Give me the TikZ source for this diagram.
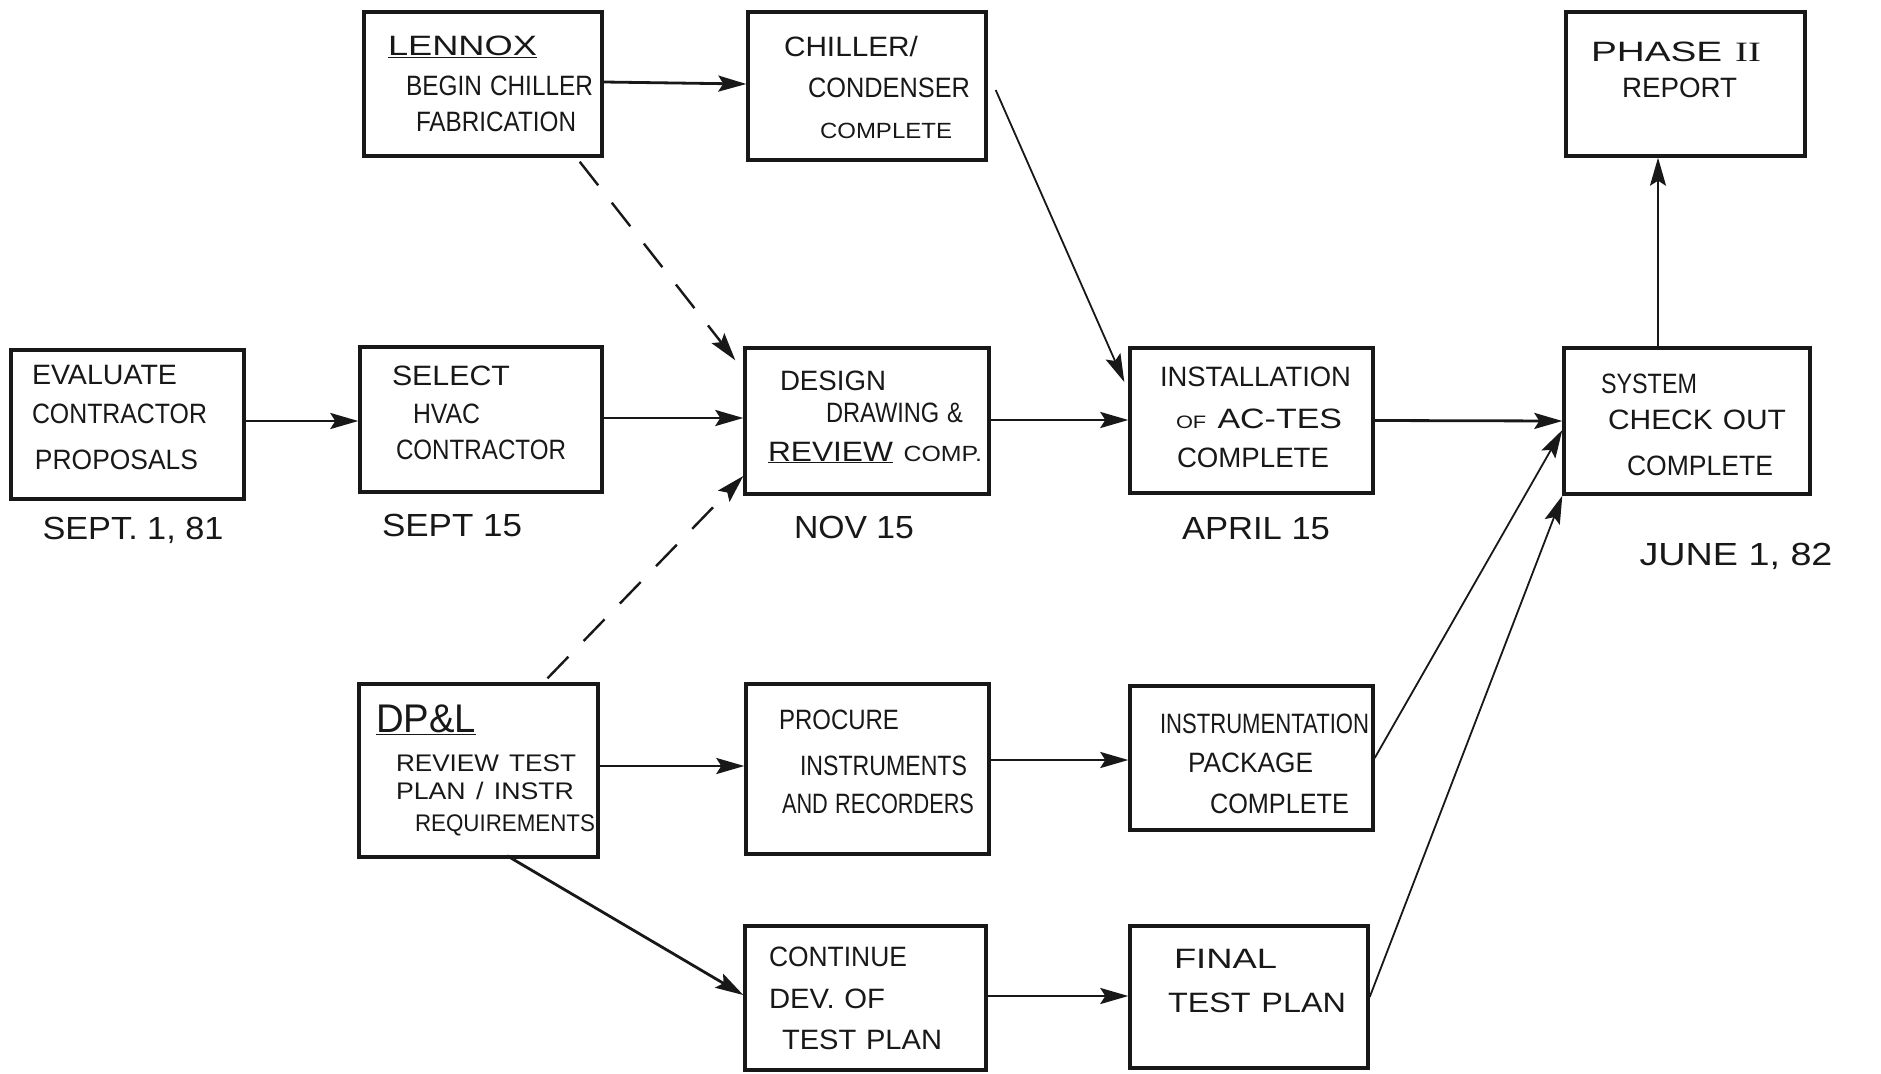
\documentclass[tikz,border=0pt]{standalone}
\usepackage{fontspec}
\setmainfont{Liberation Sans}
\newfontfamily\romfont{Liberation Serif}
\usepackage{graphicx}
\usetikzlibrary{arrows.meta}
\definecolor{ink}{RGB}{24,24,24}
\newcommand\hwl[3]{\hspace*{#1pt}\resizebox{#2pt}{\height}{#3}}
\begin{document}
\begin{tikzpicture}[x=1pt,y=-1pt,
  box/.style={draw=ink, line width=3.4pt, inner sep=0pt, align=left, text=ink,
              font=\fontsize{28}{40}\selectfont},
  bx/.style n args={2}{minimum width=#1pt, minimum height=#2pt, text width=#1pt},
  lbl/.style={inner sep=0pt, text=ink, font=\fontsize{32}{38}\selectfont},
  tip/.style={-{Stealth[length=28pt,width=16pt,inset=5pt]}},
  arr/.style={draw=ink, line width=2.8pt, tip},
  thinarr/.style={draw=ink, line width=1.8pt, tip},
  dasharr/.style={draw=ink, line width=2.4pt, dash pattern=on 30pt off 22pt, tip}]
\useasboundingbox[fill=white] (0,0) rectangle (1881,1073);

% boxes
\node[box, bx={233}{149}] (eval) at (127.5,424.5)
  {\hwl{21}{145}{EVALUATE}\\[-1pt]\hwl{21}{175}{CONTRACTOR}\\[6pt]\hwl{24}{163}{PROPOSALS}\\[-26pt]\mbox{}};
\node[box, bx={242}{145}] (select) at (481,419.5)
  {\hwl{32}{118}{SELECT}\\[-2pt]\hwl{53}{67}{HVAC}\\[-4pt]\hwl{36}{170}{CONTRACTOR}\\[-26pt]\mbox{}};
\node[box, bx={238}{144}] (lennox) at (483,84)
  {\hwl{24}{149}{\underline{LENNOX}}\\\hwl{42}{187}{BEGIN CHILLER}\\[-4pt]\hwl{52}{160}{FABRICATION}};
\node[box, bx={238}{148}] (chiller) at (867,86)
  {\mbox{}\\[-16pt]\hwl{36}{134}{CHILLER/}\\[1pt]\hwl{60}{162}{CONDENSER}\\[1pt]\hwl{72}{132}{{\fontsize{22}{40}\selectfont COMPLETE}}};
\node[box, bx={244}{146}] (design) at (867,421)
  {\hwl{35}{106}{DESIGN}\\[-8pt]\hwl{81}{137}{DRAWING \&}\\[-1pt]\hwl{23}{214}{\underline{REVIEW} {\fontsize{22}{40}\selectfont COMP.}}\\[-30pt]\mbox{}};
\node[box, bx={243}{145}] (install) at (1251.5,420.5)
  {\hwl{30}{191}{INSTALLATION}\\[2pt]\hwl{46}{166}{{\fontsize{18}{40}\selectfont OF} AC-TES}\\[-1pt]\hwl{47}{152}{COMPLETE}\\[-34pt]\mbox{}};
\node[box, bx={246}{146}] (system) at (1687,421)
  {\mbox{}\\[-12pt]\hwl{37}{96}{SYSTEM}\\[-4pt]\hwl{44}{178}{CHECK OUT}\\[6pt]\hwl{63}{146}{COMPLETE}};
\node[box, bx={239}{144}] (phase) at (1685.5,84)
  {\hwl{25}{170}{PHASE {\romfont II}}\\[-4pt]\hwl{56}{115}{REPORT}\\[-12pt]\mbox{}};
\node[box, bx={239}{173}] (dpl) at (478.5,770.5)
  {\hwl{17}{100}{{\fontsize{40}{40}\selectfont\underline{DP\&L}}}\\[-1pt]\hwl{37}{180}{{\fontsize{24}{40}\selectfont REVIEW TEST}}\\[-12pt]\hwl{37}{178}{{\fontsize{24}{40}\selectfont PLAN / INSTR}}\\[-8pt]\hwl{56}{180}{{\fontsize{24}{40}\selectfont REQUIREMENTS}}};
\node[box, bx={243}{170}] (procure) at (867.5,769)
  {\hwl{33}{120}{PROCURE}\\[6pt]\hwl{54}{167}{INSTRUMENTS}\\[-2pt]\hwl{36}{192}{AND RECORDERS}\\[-26pt]\mbox{}};
\node[box, bx={243}{144}] (instr) at (1251.5,758)
  {\mbox{}\\[-8pt]\hwl{30}{209}{INSTRUMENTATION}\\[-1pt]\hwl{58}{125}{PACKAGE}\\[1pt]\hwl{80}{139}{COMPLETE}};
\node[box, bx={241}{144}] (continue) at (865.5,998)
  {\hwl{24}{138}{CONTINUE}\\[2pt]\hwl{24}{116}{DEV. OF}\\[1pt]\hwl{37}{160}{TEST PLAN}};
\node[box, bx={238}{142}] (final) at (1249,997)
  {\hwl{44}{103}{FINAL}\\[4pt]\hwl{38}{178}{TEST PLAN}\\[-8pt]\mbox{}};

% date labels
\node[lbl] (d1) at (133,530) {\resizebox{181pt}{\height}{SEPT. 1, 81}};
\node[lbl] (d2) at (452,525) {\resizebox{140pt}{\height}{SEPT 15}};
\node[lbl] (d3) at (854,527) {\resizebox{120pt}{\height}{NOV 15}};
\node[lbl] (d4) at (1256,529) {\resizebox{148pt}{\height}{APRIL 15}};
\node[lbl] (d5) at (1736,556) {\resizebox{193pt}{\height}{JUNE 1, 82}};

% connectors
\draw[arr] ([yshift=3.5pt]eval.east) -- ([yshift=-1.5pt]select.west);
\draw[arr] ([yshift=1.5pt]select.east) -- ([yshift=3pt]design.west);
\draw[arr] ([yshift=1pt]design.east) -- ([yshift=0.5pt]install.west);
\draw[arr] (install.east) -- (system.west);
\draw[arr] ([yshift=2pt]lennox.east) -- ([yshift=2pt]chiller.west);
\draw[thinarr] ([xshift=8pt,yshift=-4pt]chiller.east) -- ([xshift=-4pt,yshift=38.5pt]install.west);
\draw[dasharr] ([xshift=-24pt,yshift=-4pt]lennox.south east) -- ([xshift=-8pt,yshift=-14pt]design.north west);
\draw[dasharr] ([xshift=69pt,yshift=4pt]dpl.north) -- ([yshift=-55pt]design.west);
\draw[arr] ([yshift=4.5pt]dpl.east) -- ([yshift=3pt]procure.west);
\draw[arr] ([yshift=9pt]procure.east) -- ([yshift=-2pt]instr.west);
\draw[arr] ([xshift=28.5pt,yshift=3pt]dpl.south) -- ([yshift=3pt]continue.west);
\draw[arr] ([yshift=2pt]continue.east) -- ([yshift=1pt]final.west);
\draw[thinarr] (instr.east) -- ([yshift=-9pt]system.west);
\draw[thinarr] (final.east) -- (system.south west);
\draw[thinarr] ([xshift=-29pt]system.north) -- ([xshift=-27.5pt]phase.south);
\end{tikzpicture}
\end{document}
